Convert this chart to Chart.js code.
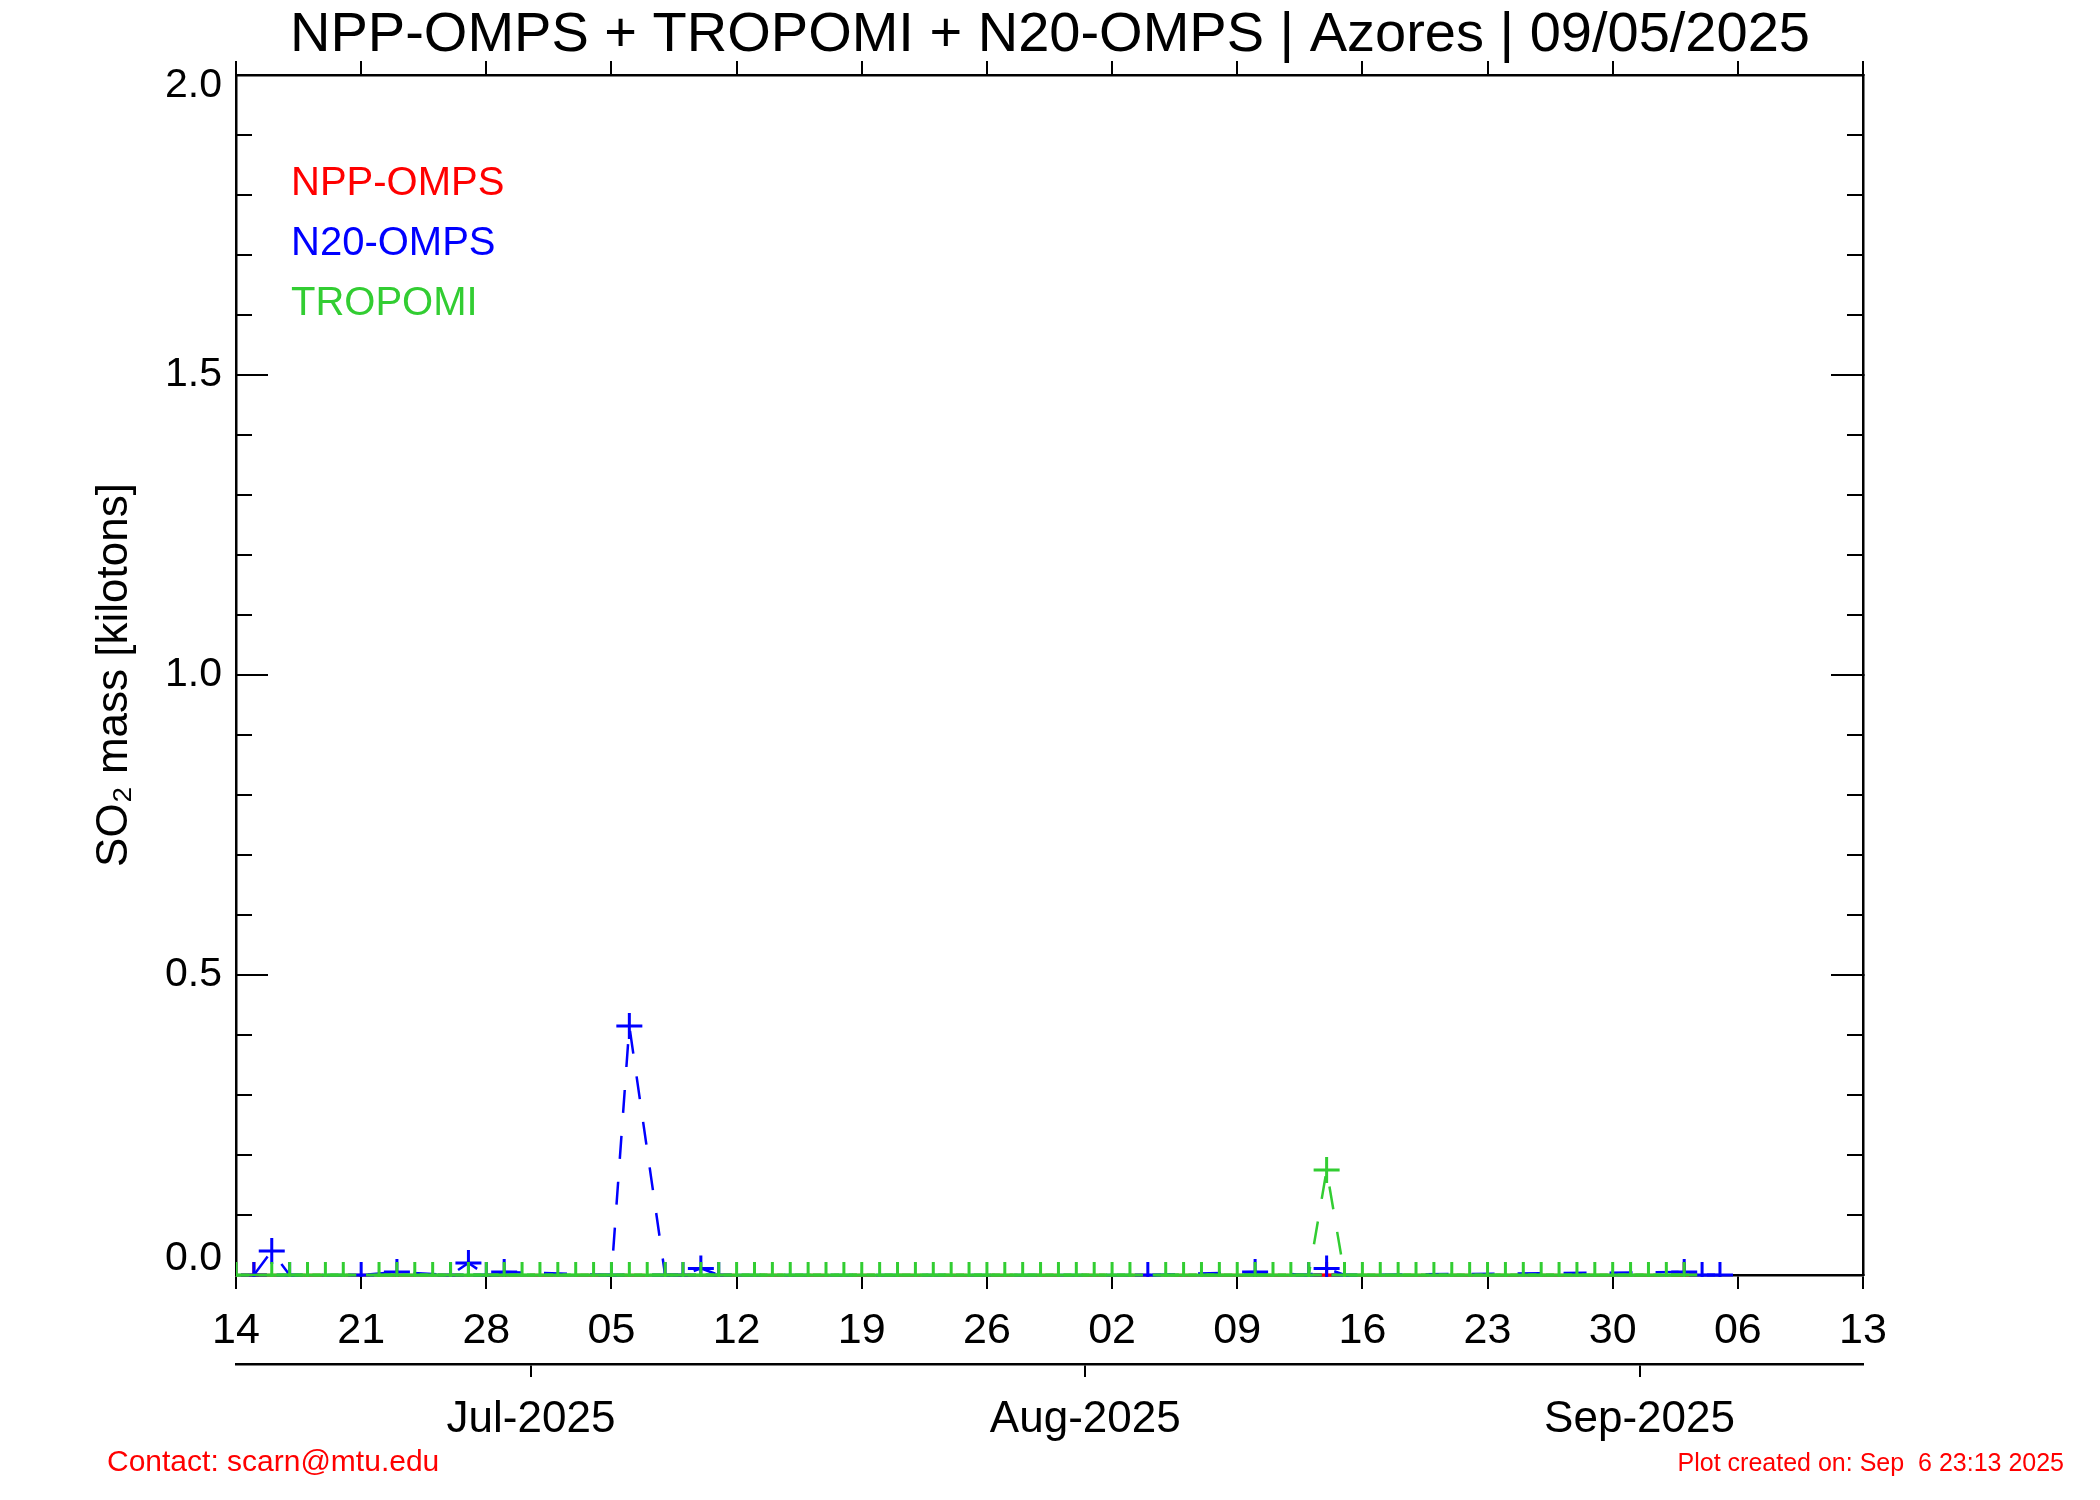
<!DOCTYPE html>
<html>
<head>
<meta charset="utf-8">
<title>SO2 mass - Azores</title>
<script src="https://cdn.jsdelivr.net/npm/chart.js@4.4.1/dist/chart.umd.min.js"></script>
<style>
  html, body { margin: 0; padding: 0; background: #fff; }
  canvas { display: block; }
</style>
</head>
<body>
<canvas id="chart" width="2100" height="1500"></canvas>
<script>
// x is in days after 14 Jun 2025; the axis runs to 13 Sep 2025 (day 91)
const weekTicks = [0, 7, 14, 21, 28, 35, 42, 49, 56, 63, 70, 77, 84, 91]
const weekLabels = ["14", "21", "28", "05", "12", "19", "26", "02", "09", "16", "23", "30", "06", "13"]
const monthTicks = [16.5, 47.5, 78.5]
const monthLabels = ["Jul-2025", "Aug-2025", "Sep-2025"]
const yLabelTicks = [0, 0.5, 1.0, 1.5, 2.0]

// TROPOMI, one value per day starting at day 0 (null = no value that day)
const tropomiValues = [
  0, null, 0, 0, 0, 0, 0, null, 0, 0,
  0, 0, 0, 0, 0, 0, 0, 0, 0, 0,
  0, 0, 0, 0, 0, 0, 0, 0, 0, 0,
  0, 0, 0, 0, 0, 0, 0, 0, 0, 0,
  0, 0, 0, 0, 0, 0, 0, 0, 0, 0,
  0, null, 0, 0, 0, 0, 0, 0, 0, 0,
  0, 0.175, 0, 0, 0, 0, 0, 0, 0, 0,
  0, 0, 0, 0, 0, 0, 0, 0, 0, 0,
  0, 0
]

const n20Days = [1, 2, 3, 7, 9, 12, 13, 14, 15, 21, 22, 24, 25, 26, 27, 51, 57, 60, 61, 62, 81, 82, 83]
const n20Values = [0, 0.04, 0, 0, 0.005, 0, 0.02, 0, 0.005, 0, 0.415, 0, 0, 0.011, 0, 0, 0.005, 0, 0.011, 0, 0.005, 0, 0]

const nppDays = [1, 61, 81]
const nppValues = [0, 0, 0]

const titleText = "NPP-OMPS + TROPOMI + N20-OMPS | Azores | 09/05/2025"
const contactText = "Contact: scarn@mtu.edu"
const createdText = "Plot created on: Sep  6 23:13 2025"

const FONT = "'Liberation Sans', Arial, Helvetica, sans-serif"
Chart.defaults.font.family = FONT
Chart.defaults.color = "#000"

const lineStyle = {
  showLine: true,
  borderWidth: 2.5,
  borderDash: [23, 23],
  pointStyle: "cross",
  pointRadius: 13,
  pointBorderWidth: 3,
  spanGaps: true,
  tension: 0,
  // let the zero line sit on top of the axis instead of half under it
  clip: { left: 0, top: 0, right: 0, bottom: 2 }
}

const tickGrid = (len) => ({
  drawOnChartArea: false,
  drawTicks: true,
  tickLength: len,
  lineWidth: 2,
  color: "#000",
  tickColor: "#000"
})
const axisBorder = { display: true, color: "#000", width: 2.5 }

// y tick labels (end labels nudged inward like the original), legend and footer
const panelText = {
  id: "panelText",
  afterDraw(chart) {
    const { ctx, chartArea } = chart
    const yScale = chart.scales.y
    ctx.save()
    ctx.textBaseline = "middle"

    ctx.textAlign = "right"
    ctx.fillStyle = "#000"
    ctx.font = `41px ${FONT}`
    yLabelTicks.forEach((v, i) => {
      let py = yScale.getPixelForValue(v)
      if (i === 0) py -= 16
      if (i === yLabelTicks.length - 1) py += 11
      ctx.fillText(v.toFixed(1), yScale.right - 14, py)
    })

    ctx.textAlign = "left"
    ctx.font = `40px ${FONT}`
    chart.data.datasets.forEach((ds, i) => {
      ctx.fillStyle = ds.borderColor
      ctx.fillText(ds.label, chartArea.left + 55, chartArea.top + 109 + i * 60)
    })

    ctx.fillStyle = "#ff0000"
    ctx.font = `30px ${FONT}`
    ctx.fillText(contactText, 107, 1463)
    ctx.textAlign = "right"
    ctx.font = `25px ${FONT}`
    ctx.fillText(createdText, 2064, 1464)
    ctx.restore()
  }
}

new Chart(document.getElementById("chart"), {
  type: "line",
  data: {
    datasets: [
      {
        label: "NPP-OMPS",
        data: nppDays.map((d, i) => ({ x: d, y: nppValues[i] })),
        borderColor: "#ff0000",
        order: 2,
        ...lineStyle
      },
      {
        label: "N20-OMPS",
        data: n20Days.map((d, i) => ({ x: d, y: n20Values[i] })),
        borderColor: "#0000ff",
        order: 1,
        ...lineStyle
      },
      {
        label: "TROPOMI",
        data: tropomiValues.map((v, i) => ({ x: i, y: v })),
        borderColor: "#32cd32",
        order: 0,
        ...lineStyle
      }
    ]
  },
  options: {
    responsive: false,
    animation: false,
    events: [],
    layout: { padding: 0, autoPadding: false },
    plugins: {
      legend: { display: false },
      tooltip: { enabled: false },
      title: {
        display: true,
        text: titleText,
        color: "#000",
        font: { size: 56, weight: "normal", lineHeight: 1 },
        padding: { top: 8, bottom: 0 }
      }
    },
    scales: {
      x: {
        type: "linear",
        position: "bottom",
        min: 0,
        max: 91,
        weight: 0,
        afterBuildTicks: s => { s.ticks = weekTicks.map(v => ({ value: v })) },
        afterFit: s => { s.height = 89 },
        ticks: {
          callback: (v, i) => weekLabels[i],
          autoSkip: false,
          maxRotation: 0,
          padding: 16,
          font: { size: 43 }
        },
        grid: tickGrid(14),
        border: axisBorder
      },
      xMonth: {
        type: "linear",
        position: "bottom",
        min: 0,
        max: 91,
        weight: 5,
        afterBuildTicks: s => { s.ticks = monthTicks.map(v => ({ value: v })) },
        afterFit: s => { s.height = 136 },
        ticks: {
          callback: (v, i) => monthLabels[i],
          autoSkip: false,
          maxRotation: 0,
          padding: 16,
          font: { size: 44 }
        },
        grid: tickGrid(13),
        border: axisBorder
      },
      xTop: {
        type: "linear",
        position: "top",
        min: 0,
        max: 91,
        weight: 0,
        afterBuildTicks: s => { s.ticks = weekTicks.map(v => ({ value: v })) },
        afterFit: s => { s.height = 11 },
        ticks: { display: false },
        grid: tickGrid(14),
        border: axisBorder
      },
      y: {
        type: "linear",
        position: "left",
        min: 0,
        max: 2,
        weight: 1,
        afterFit: s => { s.width = 236 },
        ticks: { display: false, stepSize: 0.5 },
        grid: tickGrid(-32),
        border: axisBorder,
        title: {
          display: true,
          text: "SO₂ mass [kilotons]",
          color: "#000",
          font: { size: 44 },
          padding: { top: 88, bottom: 0 }
        }
      },
      yMinor: {
        type: "linear",
        position: "left",
        min: 0,
        max: 2,
        weight: 0,
        afterFit: s => { s.width = 0 },
        ticks: { display: false, stepSize: 0.1 },
        grid: tickGrid(-16),
        border: { display: false }
      },
      yRight: {
        type: "linear",
        position: "right",
        min: 0,
        max: 2,
        weight: 1,
        afterFit: s => { s.width = 237 },
        ticks: { display: false, stepSize: 0.5 },
        grid: tickGrid(-32),
        border: axisBorder
      },
      yRightMinor: {
        type: "linear",
        position: "right",
        min: 0,
        max: 2,
        weight: 0,
        afterFit: s => { s.width = 0 },
        ticks: { display: false, stepSize: 0.1 },
        grid: tickGrid(-16),
        border: { display: false }
      }
    }
  },
  plugins: [panelText]
})
</script>
</body>
</html>
